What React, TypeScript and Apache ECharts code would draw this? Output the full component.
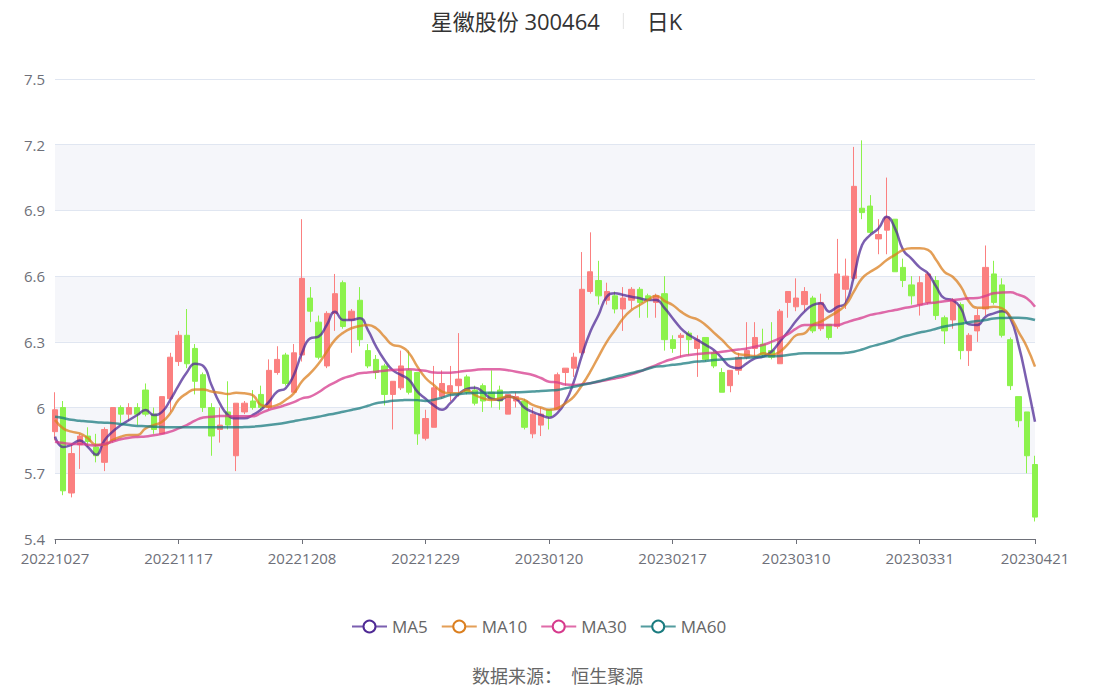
import React, { useEffect, useRef } from "react";
import * as echarts from "echarts";

const dates = [
  "20221027","20221028","20221031",
  "20221101","20221102","20221103","20221104","20221107","20221108","20221109","20221110","20221111","20221114","20221115","20221116","20221117","20221118","20221121","20221122","20221123","20221124","20221125","20221128","20221129","20221130",
  "20221201","20221202","20221205","20221206","20221207","20221208","20221209","20221212","20221213","20221214","20221215","20221216","20221219","20221220","20221221","20221222","20221223","20221226","20221227","20221228","20221229","20221230",
  "20230103","20230104","20230105","20230106","20230109","20230110","20230111","20230112","20230113","20230116","20230117","20230118","20230119","20230120","20230130","20230131",
  "20230201","20230202","20230203","20230206","20230207","20230208","20230209","20230210","20230213","20230214","20230215","20230216","20230217","20230220","20230221","20230222","20230223","20230224","20230227","20230228",
  "20230301","20230302","20230303","20230306","20230307","20230308","20230309","20230310","20230313","20230314","20230315","20230316","20230317","20230320","20230321","20230322","20230323","20230324","20230327","20230328","20230329","20230330","20230331",
  "20230403","20230404","20230406","20230407","20230410","20230411","20230412","20230413","20230414","20230417","20230418","20230419","20230420","20230421",
];

const opens = [
  5.89,6.00,5.61,5.83,5.87,5.82,5.75,5.85,6.00,5.97,
  6.00,6.08,5.97,5.88,6.04,6.21,6.33,6.27,6.15,6.00,
  5.90,5.98,5.78,5.98,6.03,6.06,6.00,6.16,6.24,6.07,
  6.24,6.50,6.39,6.19,6.43,6.57,6.40,6.49,6.26,6.22,
  6.19,6.06,6.09,6.17,6.16,5.86,5.91,6.05,6.07,6.10,
  6.14,6.08,6.10,6.07,6.08,5.97,6.03,6.03,5.88,5.92,
  5.99,5.99,6.16,6.18,6.25,6.53,6.58,6.49,6.51,6.45,
  6.49,6.54,6.51,6.48,6.52,6.31,6.32,6.34,6.27,6.32,
  6.25,6.16,6.10,6.17,6.23,6.27,6.29,6.26,6.20,6.48,
  6.46,6.47,6.50,6.36,6.38,6.37,6.54,6.59,6.91,6.92,
  6.77,6.81,6.86,6.64,6.56,6.47,6.48,6.58,6.41,6.40,
  6.47,6.26,6.35,6.45,6.61,6.56,6.31,6.05,5.98,5.74,
];
const closes = [
  5.99,5.62,5.79,5.87,5.845,5.78,5.90,6.00,5.97,6.00,
  5.97,5.97,5.90,6.05,6.23,6.33,6.20,6.12,6.00,5.87,
  5.92,5.92,6.02,6.02,6.00,6.00,6.17,6.22,6.11,6.25,
  6.59,6.44,6.23,6.43,6.52,6.37,6.44,6.31,6.19,6.16,
  6.06,6.12,6.19,6.07,5.88,5.95,6.09,6.11,6.10,6.13,
  6.07,6.02,6.03,6.04,6.03,6.06,6.05,5.91,5.97,5.97,
  5.96,6.15,6.18,6.23,6.54,6.62,6.51,6.53,6.45,6.50,
  6.54,6.48,6.49,6.51,6.31,6.27,6.33,6.31,6.31,6.22,
  6.19,6.07,6.17,6.23,6.26,6.32,6.24,6.23,6.44,6.53,
  6.50,6.53,6.35,6.48,6.32,6.61,6.60,7.01,6.89,6.80,
  6.79,6.87,6.62,6.58,6.51,6.57,6.61,6.42,6.35,6.49,
  6.26,6.33,6.42,6.64,6.48,6.33,6.10,5.94,5.78,5.50,
];
const lows = [
  5.85,5.60,5.59,5.72,5.82,5.75,5.71,5.84,5.93,5.94,
  5.92,5.96,5.88,5.88,5.98,6.19,6.18,6.06,5.98,5.78,
  5.84,5.90,5.71,5.97,5.99,5.99,5.99,6.15,6.10,6.07,
  6.21,6.39,6.22,6.18,6.35,6.36,6.25,6.28,6.18,6.13,
  6.01,5.90,6.08,6.06,5.83,5.85,5.91,6.04,6.03,6.05,
  6.06,6.01,5.98,6.00,5.99,5.97,6.00,5.90,5.86,5.87,
  5.90,5.99,6.10,6.14,6.24,6.52,6.47,6.47,6.43,6.35,
  6.45,6.41,6.41,6.41,6.26,6.25,6.23,6.24,6.14,6.21,
  6.18,6.07,6.07,6.15,6.22,6.23,6.23,6.22,6.20,6.41,
  6.44,6.44,6.34,6.35,6.31,6.36,6.45,6.58,6.86,6.79,
  6.70,6.70,6.62,6.55,6.47,6.42,6.47,6.40,6.29,6.36,
  6.22,6.19,6.30,6.42,6.47,6.32,6.08,5.91,5.70,5.48,
];
const highs = [
  6.07,6.03,5.83,5.88,5.91,5.88,5.91,6.00,6.01,6.02,
  6.02,6.11,6.00,6.05,6.25,6.35,6.45,6.29,6.16,6.02,
  6.00,6.12,6.02,6.03,6.08,6.10,6.22,6.28,6.25,6.29,
  6.86,6.55,6.42,6.44,6.61,6.58,6.45,6.55,6.29,6.24,
  6.20,6.12,6.26,6.26,6.16,5.99,6.19,6.17,6.19,6.34,
  6.15,6.10,6.11,6.17,6.10,6.06,6.07,6.04,6.00,6.00,
  5.99,6.16,6.18,6.25,6.71,6.80,6.67,6.57,6.53,6.55,
  6.55,6.55,6.52,6.52,6.60,6.33,6.34,6.35,6.33,6.32,
  6.26,6.18,6.17,6.25,6.39,6.39,6.36,6.39,6.45,6.53,
  6.59,6.55,6.51,6.52,6.38,6.77,6.68,7.19,7.22,6.97,
  6.86,7.05,6.86,6.68,6.60,6.60,6.62,6.60,6.42,6.50,
  6.48,6.34,6.45,6.74,6.67,6.59,6.32,6.05,5.98,5.78,
];

const ma5 = [
  5.867,5.82,5.83,5.85,5.82,5.785,5.85,5.89,5.92,5.943,
  5.966,5.989,5.966,5.98,6.035,6.10,6.16,6.20,6.19,6.103,
  6.02,5.966,5.951,5.951,5.966,5.99,6.027,6.073,6.088,6.149,
  6.25,6.316,6.324,6.377,6.438,6.40,6.40,6.408,6.354,6.278,
  6.217,6.171,6.149,6.126,6.073,6.04,6.01,5.99,6.02,6.06,
  6.085,6.09,6.07,6.04,6.035,6.05,6.04,6.00,5.98,5.966,
  5.954,5.975,6.027,6.118,6.24,6.346,6.423,6.506,6.522,6.514,
  6.506,6.499,6.491,6.491,6.455,6.408,6.362,6.331,6.309,6.286,
  6.263,6.225,6.187,6.18,6.202,6.225,6.233,6.255,6.30,6.346,
  6.396,6.438,6.468,6.476,6.438,6.46,6.476,6.597,6.742,6.788,
  6.818,6.871,6.818,6.719,6.68,6.64,6.613,6.552,6.499,6.491,
  6.453,6.38,6.377,6.415,6.43,6.44,6.408,6.286,6.118,5.935,
];
const ma10 = [
  5.943,5.905,5.89,5.882,5.86,5.83,5.83,5.852,5.867,5.875,
  5.875,5.905,5.92,5.935,5.974,6.035,6.065,6.083,6.083,6.073,
  6.068,6.062,6.068,6.065,6.057,6.012,6.004,6.012,6.035,6.065,
  6.12,6.157,6.20,6.255,6.309,6.342,6.362,6.372,6.377,6.362,
  6.324,6.286,6.278,6.248,6.187,6.135,6.103,6.073,6.065,6.065,
  6.08,6.057,6.042,6.035,6.042,6.05,6.042,6.035,6.012,6.0,
  5.99,5.997,6.02,6.05,6.103,6.164,6.233,6.30,6.354,6.408,
  6.445,6.468,6.491,6.511,6.487,6.468,6.438,6.415,6.403,6.377,
  6.342,6.309,6.27,6.243,6.24,6.235,6.248,6.24,6.255,6.29,
  6.33,6.339,6.377,6.392,6.415,6.438,6.468,6.529,6.59,6.62,
  6.643,6.674,6.697,6.72,6.727,6.727,6.72,6.674,6.62,6.597,
  6.552,6.483,6.456,6.456,6.46,6.453,6.415,6.346,6.278,6.187,
];
const ma30 = [
  5.844,5.838,5.834,5.834,5.83,5.827,5.834,5.844,5.855,5.862,
  5.866,5.868,5.874,5.88,5.89,5.905,5.92,5.94,5.955,5.958,
  5.961,5.961,5.96,5.96,5.96,5.975,5.99,6.0,6.012,6.025,
  6.042,6.05,6.07,6.095,6.115,6.134,6.145,6.157,6.16,6.164,
  6.168,6.171,6.173,6.175,6.172,6.168,6.16,6.159,6.159,6.163,
  6.168,6.172,6.175,6.175,6.175,6.17,6.164,6.157,6.149,6.135,
  6.118,6.115,6.105,6.103,6.107,6.111,6.118,6.126,6.133,6.14,
  6.152,6.164,6.18,6.194,6.21,6.222,6.233,6.24,6.245,6.248,
  6.25,6.255,6.26,6.265,6.27,6.278,6.286,6.30,6.316,6.335,
  6.36,6.377,6.377,6.377,6.377,6.377,6.388,6.40,6.41,6.423,
  6.43,6.438,6.445,6.453,6.46,6.468,6.476,6.48,6.485,6.49,
  6.495,6.499,6.50,6.51,6.522,6.525,6.526,6.515,6.499,6.46,
];
const ma60 = [
  5.958,5.952,5.944,5.94,5.936,5.933,5.931,5.929,5.925,5.92,
  5.916,5.915,5.913,5.911,5.91,5.91,5.91,5.91,5.91,5.91,
  5.91,5.91,5.91,5.911,5.913,5.916,5.92,5.925,5.931,5.938,
  5.945,5.951,5.958,5.966,5.973,5.981,5.989,5.997,6.008,6.02,
  6.025,6.031,6.033,6.035,6.034,6.03,6.036,6.045,6.057,6.061,
  6.065,6.067,6.068,6.068,6.068,6.069,6.07,6.071,6.073,6.076,
  6.078,6.08,6.088,6.095,6.103,6.111,6.12,6.13,6.14,6.149,
  6.158,6.167,6.177,6.187,6.19,6.195,6.199,6.205,6.21,6.213,
  6.217,6.22,6.222,6.225,6.228,6.23,6.233,6.234,6.235,6.24,
  6.245,6.248,6.248,6.248,6.248,6.248,6.25,6.255,6.265,6.278,
  6.288,6.298,6.31,6.324,6.333,6.343,6.35,6.36,6.37,6.377,
  6.383,6.39,6.395,6.40,6.407,6.409,6.41,6.41,6.408,6.40,
];

const FONT = "'Open Sans','Noto Sans CJK SC',sans-serif";

export default function App() {
  const ref = useRef<HTMLDivElement>(null);
  useEffect(() => {
    if (!ref.current) return;
    const chart = echarts.init(ref.current, null, { renderer: "svg" });
    const candles = dates.map((_, i) => [opens[i], closes[i], lows[i], highs[i]]);
    const lineSeries = (name: string, data: number[], color: string) => ({
      name,
      type: "line",
      data,
      smooth: true,
      showSymbol: false,
      symbol: "emptyCircle",
      symbolSize: 12,
      itemStyle: { color, borderWidth: 2 },
      lineStyle: { color, width: 2.5, opacity: 0.75 },
      z: 3,
    });
    const showLabel = (i: number) => i % 15 === 0 || i === dates.length - 1;
    chart.setOption({
      animation: false,
      textStyle: { fontFamily: FONT },
      title: [
        {
          text: "{t|星徽股份 300464}{g|}{s|}{g|}{t|日K}",
          left: "center",
          top: 5,
          textStyle: {
            fontWeight: "normal",
            rich: {
              t: { fontSize: 22, color: "#333", fontFamily: FONT, fontWeight: "normal" },
              g: { width: 23 },
              s: { width: 1, height: 16, backgroundColor: "#e3e3e3" },
            },
          },
        },
        {
          text: "数据来源：  恒生聚源",
          left: 467,
          top: 662,
          textStyle: { fontSize: 18, color: "#666", fontWeight: "normal", fontFamily: FONT },
        },
      ],
      legend: {
        top: 613,
        left: 346,
        itemWidth: 35,
        itemHeight: 15,
        itemGap: 13,
        textStyle: { fontSize: 17, color: "#666" },
        data: ["MA5", "MA10", "MA30", "MA60"],
      },
      grid: { left: 55, right: 78, top: 79, bottom: 150 },
      xAxis: {
        type: "category",
        data: dates,
        boundaryGap: false,
        axisLine: { lineStyle: { color: "#6e7079" } },
        axisTick: { show: true, interval: (i: number) => showLabel(i), lineStyle: { color: "#6e7079" } },
        axisLabel: {
          interval: (i: number) => showLabel(i),
          fontSize: 15,
          lineHeight: 15,
          color: "#6e7079",
          margin: 11,
        },
        splitLine: { show: false },
      },
      yAxis: {
        type: "value",
        min: 5.4,
        max: 7.5,
        interval: 0.3,
        axisLine: { show: false },
        axisTick: { show: false },
        axisLabel: { fontSize: 15, lineHeight: 15, color: "#6e7079", margin: 10 },
        splitLine: { lineStyle: { color: "#e0e6f1" } },
        splitArea: { show: true, areaStyle: { color: ["#ffffff", "#f5f6fa"] } },
      },
      series: [
        {
          name: "日K",
          type: "candlestick",
          data: candles,
          barWidth: "70%",
          itemStyle: {
            color: "#fb8080",
            color0: "#8cf24c",
            borderColor: "#fb8080",
            borderColor0: "#8cf24c",
            borderWidth: 1,
          },
          z: 2,
        },
        lineSeries("MA5", ma5, "#4f2a95"),
        lineSeries("MA10", ma10, "#db7f1f"),
        lineSeries("MA30", ma30, "#d63a8c"),
        lineSeries("MA60", ma60, "#1a7b7f"),
      ],
    });
    return () => chart.dispose();
  }, []);
  return (
    <div
      ref={ref}
      style={{ position: "fixed", left: 0, top: 0, width: 1113, height: 689, background: "#fff" }}
    />
  );
}
